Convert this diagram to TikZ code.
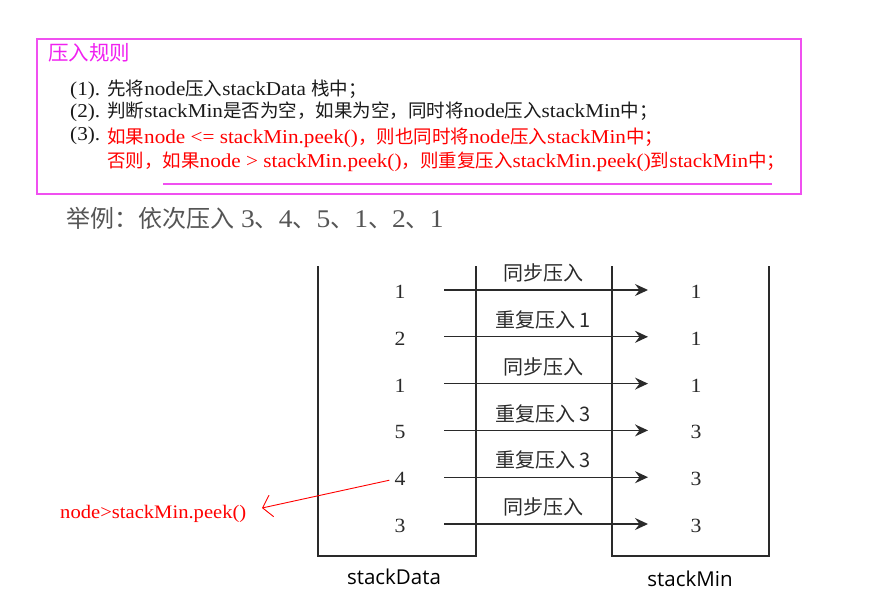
\documentclass[tikz,border=0pt]{standalone}
\usepackage{fontspec}
\setmainfont{Liberation Serif}[Scale=1.06,FakeStretch=1.08]
\newfontfamily\cjk{Noto Sans CJK SC}
\newfontfamily\lblfont{Open Sans}
\usetikzlibrary{arrows.meta}
\definecolor{frame}{HTML}{F050F0}
\definecolor{titlec}{HTML}{F020F0}
\definecolor{ink}{HTML}{1A1A1A}
\definecolor{exgray}{HTML}{555555}
\definecolor{stk}{HTML}{2A2A2A}
\definecolor{redc}{HTML}{FF0000}
\begin{document}
\begin{tikzpicture}[x=1pt,y=-1pt,
  txt/.style={anchor=west,inner sep=0pt,font=\fontsize{18.5}{22}\selectfont,text=ink},
  redtxt/.style={txt,text=redc},
  num/.style={inner sep=0pt,font=\fontsize{19}{24}\selectfont,text=stk},
  lbl/.style={inner sep=0pt,font=\cjk\fontsize{20}{22}\selectfont,text=stk},
  stackline/.style={draw=stk,line width=1.3pt},
  pusharrow/.style={draw=stk,line width=1.3pt,-{Stealth[length=13pt,width=12pt,inset=4.5pt]}},
  annarrow/.style={draw=redc,line width=0.9pt,-{Straight Barb[length=9pt,width=22pt]}},
  stackname/.style={inner sep=0pt,font=\lblfont\fontsize{20.5}{24}\selectfont,text=black}
]
\useasboundingbox (0,0) rectangle (882,614);
% rule box
\draw[frame,line width=1.4pt] (37,39) rectangle (801,194);
\node[anchor=west,inner sep=0pt,font=\cjk\fontsize{20.5}{24}\selectfont,text=titlec] (title) at (48,53) {压入规则};
\node[txt] (r1) at (70,90) {(1). {\cjk 先将}node{\cjk 压入}stackData {\cjk 栈中；}};
\node[txt] (r2) at (70,112) {(2). {\cjk 判断}stackMin{\cjk 是否为空，如果为空，同时将}node{\cjk 压入}stackMin{\cjk 中；}};
\node[txt] (r3) at (70,136) {(3).};
\node[redtxt] (r3a) at (107,138) {{\cjk 如果}node <= stackMin.peek(){\cjk ，则也同时将}node{\cjk 压入}stackMin{\cjk 中；}};
\node[redtxt] (r3b) at (107,162) {{\cjk 否则，如果}node > stackMin.peek(){\cjk ，则重复压入}stackMin.peek(){\cjk 到}stackMin{\cjk 中；}};
\draw[frame,line width=2pt] (163,184) -- (772,184);
% example
\node[anchor=west,inner sep=0pt,font=\fontsize{24}{27}\selectfont,text=exgray] (ex) at (66,218)
  {{\cjk 举例：依次压入} 3{\cjk 、}4{\cjk 、}5{\cjk 、}1{\cjk 、}2{\cjk 、}1};
% stacks
\draw[stackline] (318,266) -- (318,556) -- (476,556) -- (476,266);
\draw[stackline] (612,266) -- (612,556) -- (769,556) -- (769,266);
\node[stackname] (sdname) at (394,577) {stackData};
\node[stackname] (smname) at (690,579) {stackMin};
% rows
\foreach \i/\d/\m/\lab [evaluate=\i as \y using {290+46.8*(\i-1)}] in
  {1/1/1/同步压入, 2/2/1/重复压入 1, 3/1/1/同步压入, 4/5/3/重复压入 3, 5/4/3/重复压入 3, 6/3/3/同步压入}{
  \node[num] (d\i) at (400,\y+2) {\d};
  \node[num] (m\i) at (696,\y+2) {\m};
  \coordinate (as\i) at (444,\y);
  \coordinate (ae\i) at (648,\y);
  \draw[pusharrow] (as\i) -- (ae\i);
  \node[lbl] (l\i) at (543,\y-17) {\lab};
}
% annotation
\node[anchor=base west,inner sep=0pt,font=\fontsize{18}{22}\selectfont,text=redc] (ann) at (60,518) {node>stackMin.peek()};
\coordinate (tip) at (262,508);
\draw[annarrow] ([xshift=-5pt,yshift=-1pt]d5.west) -- (tip);
\end{tikzpicture}
\end{document}
